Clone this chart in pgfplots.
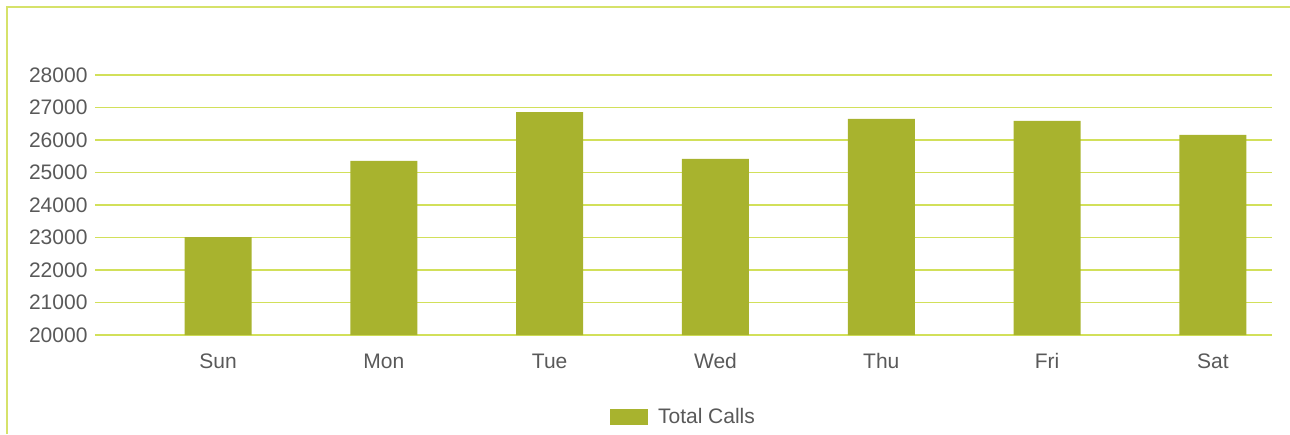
\documentclass[border=0pt]{standalone}
\usepackage{pgfplots}
\pgfplotsset{compat=1.18}
\usepackage{fontspec}
\setmainfont{Liberation Sans}
\definecolor{barc}{RGB}{168,179,46}
\definecolor{gridc}{RGB}{210,224,90}
\definecolor{framec}{RGB}{214,226,106}
\definecolor{txt}{RGB}{89,89,89}
\begin{document}
\begin{tikzpicture}[x=1pt,y=1pt]
\path[use as bounding box] (0,0) rectangle (1290,-434);
\draw[framec,line width=2pt] (7,-434) -- (7,-7) -- (1291,-7);
\begin{axis}[
  at={(95pt,-335pt)}, anchor=south west,
  scale only axis, width=1177pt, height=260pt,
  ymin=20000, ymax=28000,
  ytick={20000,21000,...,28000},
  scaled y ticks=false,
  xmin=-0.742, xmax=6.356,
  xtick={0,...,6},
  xticklabels={Sun,Mon,Tue,Wed,Thu,Fri,Sat},
  axis line style={draw=none},
  major tick length=0pt,
  ymajorgrids, grid style={gridc,line width=1.6pt},
  /pgf/number format/assume math mode=true,
  /pgf/number format/1000 sep={},
  ticklabel style={font=\fontsize{21}{25}\selectfont, text=txt},
  yticklabel style={xshift=-4pt},
  xticklabel style={anchor=base, yshift=-33pt},
  legend style={at={(0.5,-0.315)}, anchor=center, draw=none,
    font=\fontsize{21}{25}\selectfont, text=txt,
    legend columns=1},
  legend image code/.code={\fill[barc] (0pt,-8pt) rectangle (38pt,8pt);\path (46pt,0pt);},
]
\addplot[ybar, bar width=67pt, fill=barc, draw=none] coordinates {
(0,23015) (1,25355) (2,26860) (3,25420) (4,26650) (5,26585) (6,26155)};
\addlegendentry{Total Calls}
\end{axis}
\end{tikzpicture}
\end{document}
